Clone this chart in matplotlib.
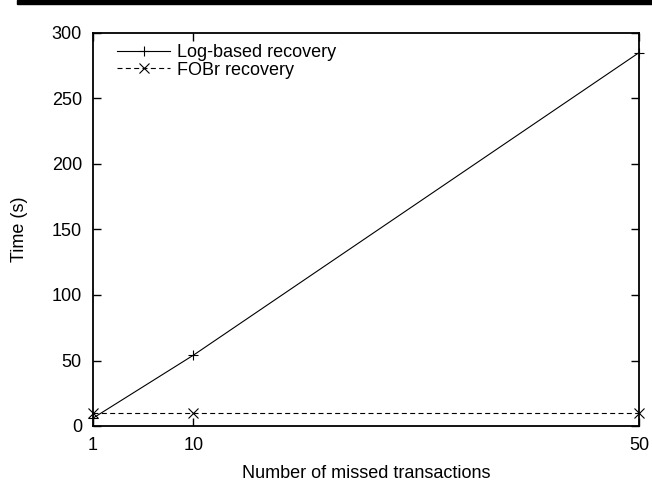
import matplotlib
matplotlib.use("Agg")
import matplotlib.pyplot as plt
from matplotlib.patches import Rectangle

plt.rcParams["font.family"] = ["Liberation Sans", "DejaVu Sans"]

missed = [1, 10, 50]
log_based = [6, 54, 285]
fobr = [10, 10, 10]
x_ticks = [1, 10, 50]
y_ticks = [0, 50, 100, 150, 200, 250, 300]

fig = plt.figure(figsize=(6.52, 4.84), dpi=100)
ax = fig.add_axes([93 / 652, 1 - 426 / 484, 546 / 652, 393 / 484])

# thick rule across the top of the page
fig.patches.append(Rectangle((17 / 652, 1 - 4 / 484), 1, 4 / 484,
                             transform=fig.transFigure, color="black"))

ax.plot(missed, log_based, color="black", linewidth=0.8, linestyle="-",
        marker="+", markersize=6.5, markeredgewidth=0.8,
        label="Log-based recovery", clip_on=False)
ax.plot(missed, fobr, color="black", linewidth=0.8, linestyle=(0, (4.5, 3)),
        marker="x", markersize=6.5, markeredgewidth=0.8,
        label="FOBr recovery", clip_on=False)

ax.set_xlim(1, 50)
ax.set_ylim(0, 300)
ax.set_xticks(x_ticks)
ax.set_yticks(y_ticks)
ax.tick_params(direction="in", length=6, width=1, top=True, right=True,
               labelsize=13, pad=8)
for s in ax.spines.values():
    s.set_linewidth(1.3)

ax.set_xlabel("Number of missed transactions", fontsize=13, labelpad=8)
ax.set_ylabel("Time (s)", fontsize=13, labelpad=17)

leg = ax.legend(loc="upper left", frameon=False, fontsize=13,
                handlelength=2.9, handletextpad=0.4, labelspacing=0.05,
                borderaxespad=0.2, bbox_to_anchor=(0.025, 1.0))

fig.savefig("out.png", dpi=100)
